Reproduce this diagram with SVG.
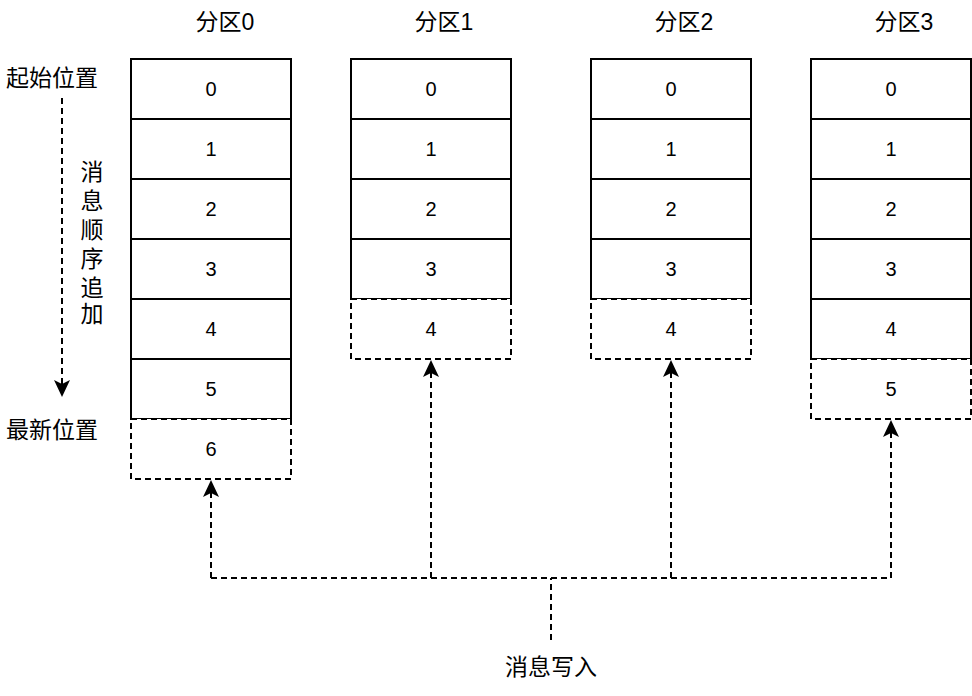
<svg xmlns="http://www.w3.org/2000/svg" width="972" height="696" viewBox="0 0 972 696">
<style>
.cell{fill:#fff;stroke:#000;stroke-width:2}
.new{fill:#fff;stroke:#000;stroke-width:2;stroke-dasharray:6 4}
.num{font-family:"Liberation Sans",Arial,sans-serif;font-size:20px;fill:#000;text-anchor:middle;dominant-baseline:central}
.lbl{font-family:"Liberation Sans","Noto Sans CJK SC",sans-serif;font-size:23px;fill:#000;text-anchor:middle;dominant-baseline:central}
.dash{fill:none;stroke:#000;stroke-width:2;stroke-dasharray:6 4}
</style>
<defs>
<marker id="ah" markerUnits="userSpaceOnUse" markerWidth="22" markerHeight="22" viewBox="-20 -11 22 22" refX="0" refY="0" orient="auto" overflow="visible">
<path d="M0,0 L-17,-8 L-13,0 L-17,8 Z" fill="#000"/>
</marker>
</defs>
<rect width="972" height="696" fill="#fff"/>
<g id="labels">
<text class="lbl" x="225" y="22">分区0</text>
<text class="lbl" x="444" y="22">分区1</text>
<text class="lbl" x="684" y="22">分区2</text>
<text class="lbl" x="904" y="22">分区3</text>
<text class="lbl" x="52" y="78">起始位置</text>
<text class="lbl" x="52" y="430">最新位置</text>
<text class="lbl" x="551" y="667">消息写入</text>
<g id="vtext">
<text class="lbl" x="92" y="172">消</text>
<text class="lbl" x="92" y="201">息</text>
<text class="lbl" x="92" y="230">顺</text>
<text class="lbl" x="92" y="259">序</text>
<text class="lbl" x="92" y="288">追</text>
<text class="lbl" x="92" y="314">加</text>
</g>
</g>
<g id="partition0">
<rect class="cell" x="131" y="59" width="160" height="60"/><text class="num" x="211" y="89">0</text>
<rect class="cell" x="131" y="119" width="160" height="60"/><text class="num" x="211" y="149">1</text>
<rect class="cell" x="131" y="179" width="160" height="60"/><text class="num" x="211" y="209">2</text>
<rect class="cell" x="131" y="239" width="160" height="60"/><text class="num" x="211" y="269">3</text>
<rect class="cell" x="131" y="299" width="160" height="60"/><text class="num" x="211" y="329">4</text>
<rect class="cell" x="131" y="359" width="160" height="60"/><text class="num" x="211" y="389">5</text>
<rect class="new" x="131" y="419" width="160" height="60"/><text class="num" x="211" y="449">6</text>
</g>
<g id="partition1">
<rect class="cell" x="351" y="59" width="160" height="60"/><text class="num" x="431" y="89">0</text>
<rect class="cell" x="351" y="119" width="160" height="60"/><text class="num" x="431" y="149">1</text>
<rect class="cell" x="351" y="179" width="160" height="60"/><text class="num" x="431" y="209">2</text>
<rect class="cell" x="351" y="239" width="160" height="60"/><text class="num" x="431" y="269">3</text>
<rect class="new" x="351" y="299" width="160" height="60"/><text class="num" x="431" y="329">4</text>
</g>
<g id="partition2">
<rect class="cell" x="591" y="59" width="160" height="60"/><text class="num" x="671" y="89">0</text>
<rect class="cell" x="591" y="119" width="160" height="60"/><text class="num" x="671" y="149">1</text>
<rect class="cell" x="591" y="179" width="160" height="60"/><text class="num" x="671" y="209">2</text>
<rect class="cell" x="591" y="239" width="160" height="60"/><text class="num" x="671" y="269">3</text>
<rect class="new" x="591" y="299" width="160" height="60"/><text class="num" x="671" y="329">4</text>
</g>
<g id="partition3">
<rect class="cell" x="811" y="59" width="160" height="60"/><text class="num" x="891" y="89">0</text>
<rect class="cell" x="811" y="119" width="160" height="60"/><text class="num" x="891" y="149">1</text>
<rect class="cell" x="811" y="179" width="160" height="60"/><text class="num" x="891" y="209">2</text>
<rect class="cell" x="811" y="239" width="160" height="60"/><text class="num" x="891" y="269">3</text>
<rect class="cell" x="811" y="299" width="160" height="60"/><text class="num" x="891" y="329">4</text>
<rect class="new" x="811" y="359" width="160" height="60"/><text class="num" x="891" y="389">5</text>
</g>
<g id="connectors">
<path class="dash" d="M62,98 L62,397" marker-end="url(#ah)"/>
<path class="dash" d="M551,640 L551,578"/>
<path class="dash" d="M211,578 L891,578"/>
<path class="dash" d="M211,578 L211,480" marker-end="url(#ah)"/>
<path class="dash" d="M431,578 L431,360" marker-end="url(#ah)"/>
<path class="dash" d="M671,578 L671,360" marker-end="url(#ah)"/>
<path class="dash" d="M891,578 L891,420" marker-end="url(#ah)"/>
</g>
</svg>
